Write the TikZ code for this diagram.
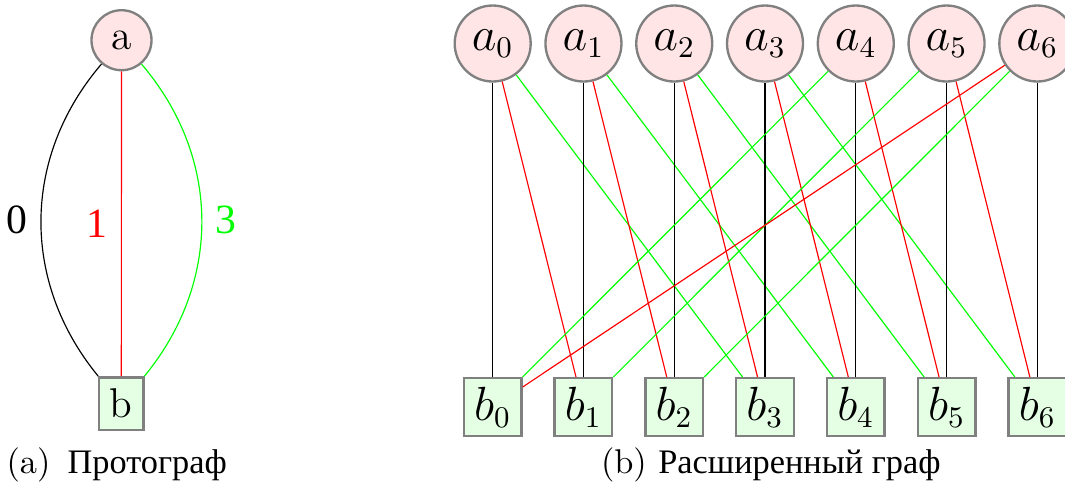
\documentclass[tikz,border=0pt]{standalone}
\usepackage{fontspec}
\newfontfamily\cyrfont{Liberation Serif}
\usetikzlibrary{positioning}
\definecolor{nodegray}{HTML}{808080}
\tikzset{
  varnode/.style={
    circle, draw=nodegray, fill=red!10, line width=0.7pt,
    minimum size=#1, inner sep=0pt,
    font=\fontsize{13.5}{15}\selectfont
  },
  varnode/.default=22.8pt,
  chknode/.style={
    rectangle, draw=nodegray, fill=green!10, line width=0.7pt,
    minimum size=#1, inner sep=0pt,
    font=\fontsize{13.5}{15}\selectfont
  },
  chknode/.default=17.3pt,
  lift/.style={line width=0.35pt, color=#1},
  lift/.default=black,
  edgelabel/.style={font=\cyrfont\fontsize{12.5}{14}\selectfont, inner sep=4pt},
  captionnode/.style={font=\fontsize{10.3}{12}\selectfont, anchor=base, inner sep=0pt},
}
\begin{document}
\begin{tikzpicture}[x=0.3pt, y=-0.3pt]
  \useasboundingbox (0,0) rectangle (1065,486);

  % Protograph
  \node[varnode=18pt, font=\fontsize{12.5}{14}\selectfont] (a) at (121.5,40.2) {a};
  \node[chknode, minimum width=13.4pt, minimum height=15.8pt,
        font=\fontsize{12.5}{14}\selectfont] (b) at (121.3,403.7) {b};

  \draw[lift=black] (a) to[bend right=40] node[left, edgelabel] {0} (b);
  \draw[lift=red] (a) -- node[left, edgelabel] {1} (b);
  \draw[lift=green] (a) to[bend left=40] node[right, edgelabel] {3} (b);

  \node[captionnode] (capa) at (116.7,473) {(a)\hspace{0.5em}{\cyrfont Протограф}};

  % Lifted graph
  \foreach \i in {0,...,6} {
    \node[varnode] (a\i) at ({492.7+90.77*\i},43.5) {$a_{\i}$};
    \node[chknode] (b\i) at ({492.7+90.77*\i},407) {$b_{\i}$};
  }

  \foreach \i in {0,...,6} {
    \pgfmathtruncatemacro{\shiftone}{mod(\i+1,7)}
    \pgfmathtruncatemacro{\shiftthree}{mod(\i+3,7)}
    \draw[lift=black] (a\i) -- (b\i);
    \draw[lift=red] (a\i) -- (b\shiftone);
    \draw[lift=green] (a\i) -- (b\shiftthree);
  }

  \node[captionnode] (capb) at (770.8,473) {(b) {\cyrfont Расширенный граф}};
\end{tikzpicture}
\end{document}
